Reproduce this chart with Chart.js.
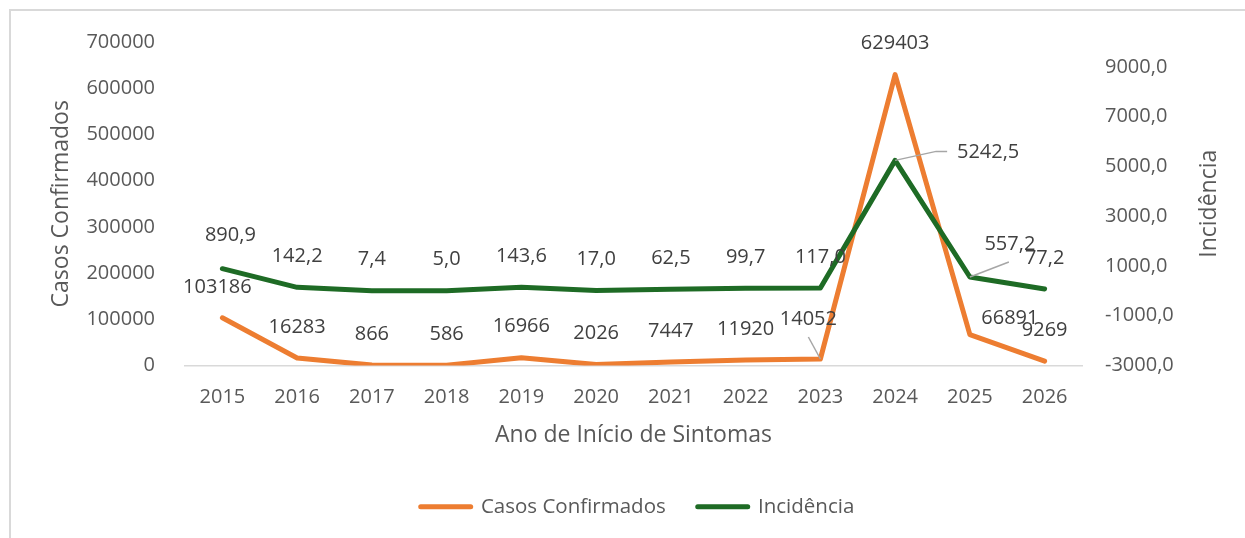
<!DOCTYPE html>
<html>
<head>
<meta charset="utf-8">
<script src="https://cdn.jsdelivr.net/npm/chart.js@4.4.1/dist/chart.umd.min.js"></script>
<style>
  html, body { margin: 0; padding: 0; background: #fff; overflow: hidden; }
  #frame { position: absolute; left: 9px; top: 9px; width: 1240px; height: 540px;
           border-top: 2px solid #d9d9d9; border-left: 2px solid #d9d9d9; }
  #chart { position: absolute; left: 0; top: 0; }
</style>
</head>
<body>
<div id="frame"></div>
<canvas id="chart" width="1245" height="538"></canvas>
<script>
// data
const years = ['2015', '2016', '2017', '2018', '2019', '2020', '2021', '2022', '2023', '2024', '2025', '2026'];
const casos = [103186, 16283, 866, 586, 16966, 2026, 7447, 11920, 14052, 629403, 66891, 9269];
const incidencia = [890.9, 142.2, 7.4, 5.0, 143.6, 17.0, 62.5, 99.7, 117.0, 5242.5, 557.2, 77.2];

const casosTicks = [0, 100000, 200000, 300000, 400000, 500000, 600000, 700000];
const incidenciaTicks = [-3000, -1000, 1000, 3000, 5000, 7000, 9000];
const incidenciaMin = -3000;
const incidenciaMax = 10000;

const FONT = '"Open Sans", "Noto Sans", sans-serif';
const GREY = '#595959';
const ORANGE = '#ED7D31';
const GREEN = '#1E6B25';
const TITLE_SIZE = 23;

const fmtInc = v => v.toFixed(1).replace('.', ',');

// label nudges (Excel moved a few labels by hand), relative to the default spot above the point
const labelNudge = {
  0: { 0: [-5, 0], 8: [-12, -9, [[-12, -22]]], 10: [40, 15] },
  1: { 0: [8, -2], 9: [93, 23, [[41, -9], [52, -9]]], 10: [40, -2, [[39, -15]]] }
};

const dataLabels = {
  id: 'dataLabels',
  afterDatasetsDraw(chart) {
    const ctx = chart.ctx;
    ctx.save();
    ctx.font = '20px ' + FONT;
    ctx.textAlign = 'center';
    ctx.textBaseline = 'middle';
    chart.data.datasets.forEach((ds, di) => {
      const meta = chart.getDatasetMeta(di);
      meta.data.forEach((pt, i) => {
        const n = (labelNudge[di] || {})[i] || [0, 0];
        const x = pt.x + n[0];
        const y = pt.y - 31 + n[1];
        if (n[2]) {
          ctx.strokeStyle = '#a6a6a6';
          ctx.lineWidth = 1.5;
          ctx.beginPath();
          ctx.moveTo(pt.x, pt.y);
          n[2].forEach(p => ctx.lineTo(pt.x + p[0], pt.y + p[1]));
          ctx.stroke();
        }
        const txt = di === 0 ? String(ds.data[i]) : fmtInc(ds.data[i]);
        ctx.fillStyle = '#404040';
        ctx.fillText(txt, x, y);
      });
    });
    ctx.restore();
  }
};

// Excel writes the right axis title bottom-to-top, Chart.js would turn it the other way
const rightTitle = {
  id: 'rightTitle',
  afterDraw(chart) {
    const s = chart.scales.y2;
    const ctx = chart.ctx;
    ctx.save();
    ctx.translate(1209, (s.top + s.bottom) / 2);
    ctx.rotate(-Math.PI / 2);
    ctx.font = TITLE_SIZE + 'px ' + FONT;
    ctx.fillStyle = GREY;
    ctx.textAlign = 'center';
    ctx.textBaseline = 'middle';
    ctx.fillText('Incidência', 0, 0);
    ctx.restore();
  }
};

new Chart(document.getElementById('chart'), {
  type: 'line',
  data: {
    labels: years,
    datasets: [
      {
        label: 'Casos Confirmados',
        data: casos,
        yAxisID: 'y',
        borderColor: ORANGE,
        backgroundColor: ORANGE,
        borderWidth: 5,
        pointRadius: 0,
        pointBorderWidth: 5,
        borderJoinStyle: 'round',
        borderCapStyle: 'round',
        tension: 0,
        order: 1
      },
      {
        label: 'Incidência',
        data: incidencia,
        yAxisID: 'y2',
        borderColor: GREEN,
        backgroundColor: GREEN,
        borderWidth: 5,
        pointRadius: 0,
        pointBorderWidth: 5,
        borderJoinStyle: 'round',
        borderCapStyle: 'round',
        tension: 0,
        order: 0
      }
    ]
  },
  options: {
    responsive: false,
    animation: false,
    devicePixelRatio: 1,
    layout: { padding: { top: 39, left: 30, right: 0, bottom: 11 } },
    font: { family: FONT },
    plugins: {
      tooltip: { enabled: false },
      legend: {
        position: 'bottom',
        labels: {
          usePointStyle: true,
          pointStyle: 'line',
          pointStyleWidth: 50,
          boxHeight: 5,
          padding: 32,
          color: GREY,
          font: { family: FONT, size: 20.5 },
          generateLabels(chart) {
            const items = Chart.defaults.plugins.legend.labels.generateLabels(chart);
            items.forEach(it => {
              const ds = chart.data.datasets[it.datasetIndex];
              it.lineWidth = 5;
              it.lineCap = 'round';
              it.pointStyle = 'line';
              it.strokeStyle = ds.borderColor;
              it.fillStyle = ds.borderColor;
            });
            return items.sort((a, b) => a.datasetIndex - b.datasetIndex);
          }
        }
      }
    },
    scales: {
      x: {
        offset: true,
        grid: { display: false, drawTicks: false },
        border: { display: true, color: '#d9d9d9', width: 1.5 },
        ticks: { color: GREY, padding: 20, font: { family: FONT, size: 20 }, maxRotation: 0 },
        title: {
          display: true,
          text: 'Ano de Início de Sintomas',
          color: GREY,
          font: { family: FONT, size: TITLE_SIZE },
          padding: { top: 0, bottom: 15 }
        },
        afterFit(s) { s.height = 99; }
      },
      y: {
        position: 'left',
        min: casosTicks[0],
        max: casosTicks[casosTicks.length - 1],
        grid: { display: false, drawTicks: false },
        border: { display: false },
        ticks: { color: GREY, padding: 30, font: { family: FONT, size: 20 }, callback: v => String(v) },
        afterBuildTicks(s) { s.ticks = casosTicks.map(v => ({ value: v })); },
        title: {
          display: true,
          text: 'Casos Confirmados',
          color: GREY,
          font: { family: FONT, size: TITLE_SIZE },
          padding: { top: 18, bottom: 0 }
        },
        afterFit(s) { s.width = 155; }
      },
      y2: {
        position: 'right',
        min: incidenciaMin,
        max: incidenciaMax,
        grid: { display: false, drawTicks: false },
        border: { display: false },
        ticks: { color: GREY, padding: 23, font: { family: FONT, size: 20 }, callback: v => fmtInc(v) },
        afterBuildTicks(s) { s.ticks = incidenciaTicks.map(v => ({ value: v })); },
        afterFit(s) { s.width = 163; }
      }
    }
  },
  plugins: [dataLabels, rightTitle]
});
</script>
</body>
</html>
